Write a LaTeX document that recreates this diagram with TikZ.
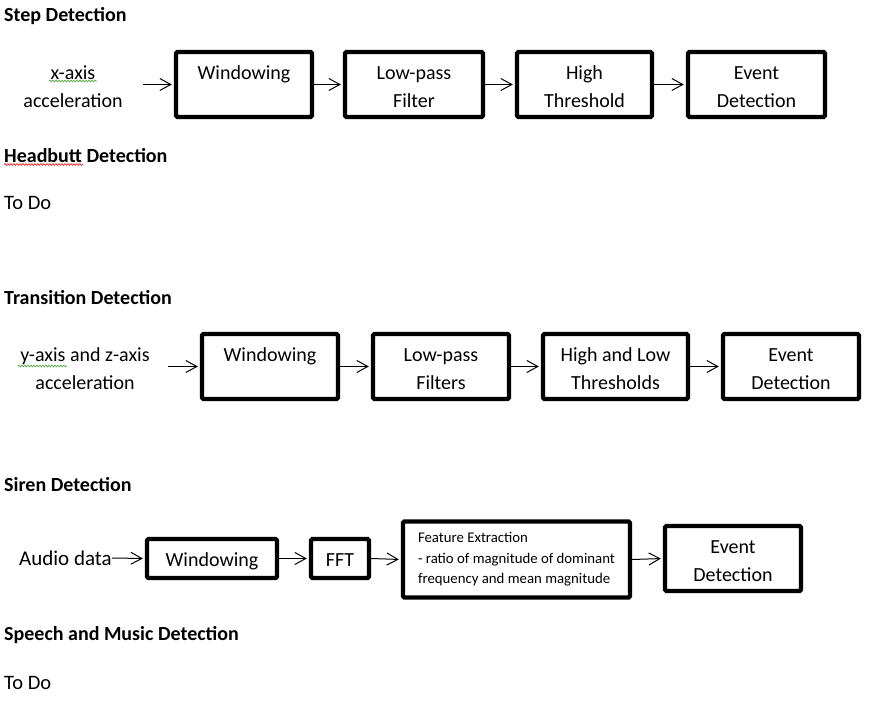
\documentclass[tikz,border=0pt]{standalone}
\usepackage{fontspec}
\setmainfont{Carlito}
\usetikzlibrary{arrows.meta,decorations.pathmorphing}
\newcommand\twoline[2]{\begin{tabular}[t]{@{}c@{}}#1\\#2\end{tabular}}
\tikzset{
  blk/.style={draw, line width=4.3pt, rounded corners=1.5pt, inner sep=0pt,
    font=\fontsize{20}{28}\selectfont, text height=10pt, text depth=20pt},
  blkone/.style={draw, line width=4.3pt, rounded corners=1.5pt, inner sep=0pt,
    font=\fontsize{20}{28}\selectfont, text height=18pt, text depth=2pt},
  conn/.style={-{Straight Barb[length=11pt,width=12pt]}, line width=1pt, shorten >=2pt},
  head/.style={anchor=west, font=\bfseries\fontsize{20}{22}\selectfont, inner sep=0pt},
  lbl/.style={align=center, font=\fontsize{20}{28}\selectfont, inner sep=0pt},
  small/.style={align=left, font=\fontsize{14.8}{20.5}\selectfont, inner sep=0pt},
  squig/.style={decorate, decoration={snake, amplitude=0.9pt, segment length=3pt}, line width=0.7pt},
}
\definecolor{spellgreen}{RGB}{90,170,70}
\definecolor{spellred}{RGB}{230,40,40}
\begin{document}
\begin{tikzpicture}[x=1pt,y=-1pt]
\useasboundingbox (0,0) rectangle (871,702);

% ---------- Step Detection ----------
\node[head] (h1) at (4,16) {Step Detection};
\node[lbl] (in1) at (73,87) {x-axis\\acceleration};
\coordinate (s1) at (143,84.5);
\node[blk, minimum width=136, minimum height=65] (w1) at (244,84.5) {\twoline{Windowing}{}};
\node[blk, minimum width=138, minimum height=65] (lp1) at (414,84.5) {\twoline{Low-pass}{Filter}};
\node[blk, minimum width=135, minimum height=65] (ht1) at (584.5,84.5) {\twoline{High}{Threshold}};
\node[blk, minimum width=137, minimum height=65] (ev1) at (756.5,84.5) {\twoline{Event}{Detection}};
\draw[conn] (s1) -- (w1.west);
\draw[conn] (w1.east) -- (lp1.west);
\draw[conn] (lp1.east) -- (ht1.west);
\draw[conn] (ht1.east) -- (ev1.west);
\draw[squig, spellgreen] (49,81) -- (97,81);

% ---------- Headbutt Detection ----------
\node[head] (h2) at (4,156) {Headbutt Detection};
\draw[squig, spellred] (4,164.5) -- (83,164.5);
\node[lbl, anchor=west, font=\fontsize{20.5}{28}\selectfont] (td1) at (4,203) {To Do};

% ---------- Transition Detection ----------
\node[head] (h3) at (4,298) {Transition Detection};
\node[lbl] (in2) at (85,369) {y-axis and z-axis\\acceleration};
\coordinate (s2) at (168,366.5);
\node[blk, minimum width=136, minimum height=65] (w2) at (270,366.5) {\twoline{Windowing}{}};
\node[blk, minimum width=136, minimum height=65] (lp2) at (441,366.5) {\twoline{Low-pass}{Filters}};
\node[blk, minimum width=145, minimum height=65] (ht2) at (615.5,366.5) {\twoline{High and Low}{Thresholds}};
\node[blk, minimum width=136, minimum height=65] (ev2) at (791,366.5) {\twoline{Event}{Detection}};
\draw[conn] (s2) -- (w2.west);
\draw[conn] (w2.east) -- (lp2.west);
\draw[conn] (lp2.east) -- (ht2.west);
\draw[conn] (ht2.east) -- (ev2.west);
\draw[squig, spellgreen] (18,366) -- (67,366);

% ---------- Siren Detection ----------
\node[head] (h4) at (4,485) {Siren Detection};
\node[lbl, anchor=east, font=\fontsize{21}{28}\selectfont] (in3) at (112,558) {Audio data};
\node[blkone, minimum width=130, minimum height=39] (w3) at (212,558.5) {Windowing};
\node[blkone, minimum width=58, minimum height=39] (fft) at (340,558.5) {FFT};
\node[draw, line width=4.3pt, rounded corners=1.5pt, small, minimum width=227, minimum height=76] (fe) at (516.5,559.5)
  {Feature Extraction\\- ratio of magnitude of dominant\\frequency and mean magnitude};
\node[blk, minimum width=136, minimum height=65] (ev3) at (733,558.5) {\twoline{Event}{Detection}};
\draw[conn] (in3.east) -- (w3.west);
\draw[conn] (w3.east) -- (fft.west);
\draw[conn] (fft.east) -- (fe.west);
\draw[conn] (fe.east) -- (ev3.west);

% ---------- Speech and Music Detection ----------
\node[head] (h5) at (4,635) {Speech and Music Detection};
\node[lbl, anchor=west, font=\fontsize{20.5}{28}\selectfont] (td2) at (4,683) {To Do};
\end{tikzpicture}
\end{document}
